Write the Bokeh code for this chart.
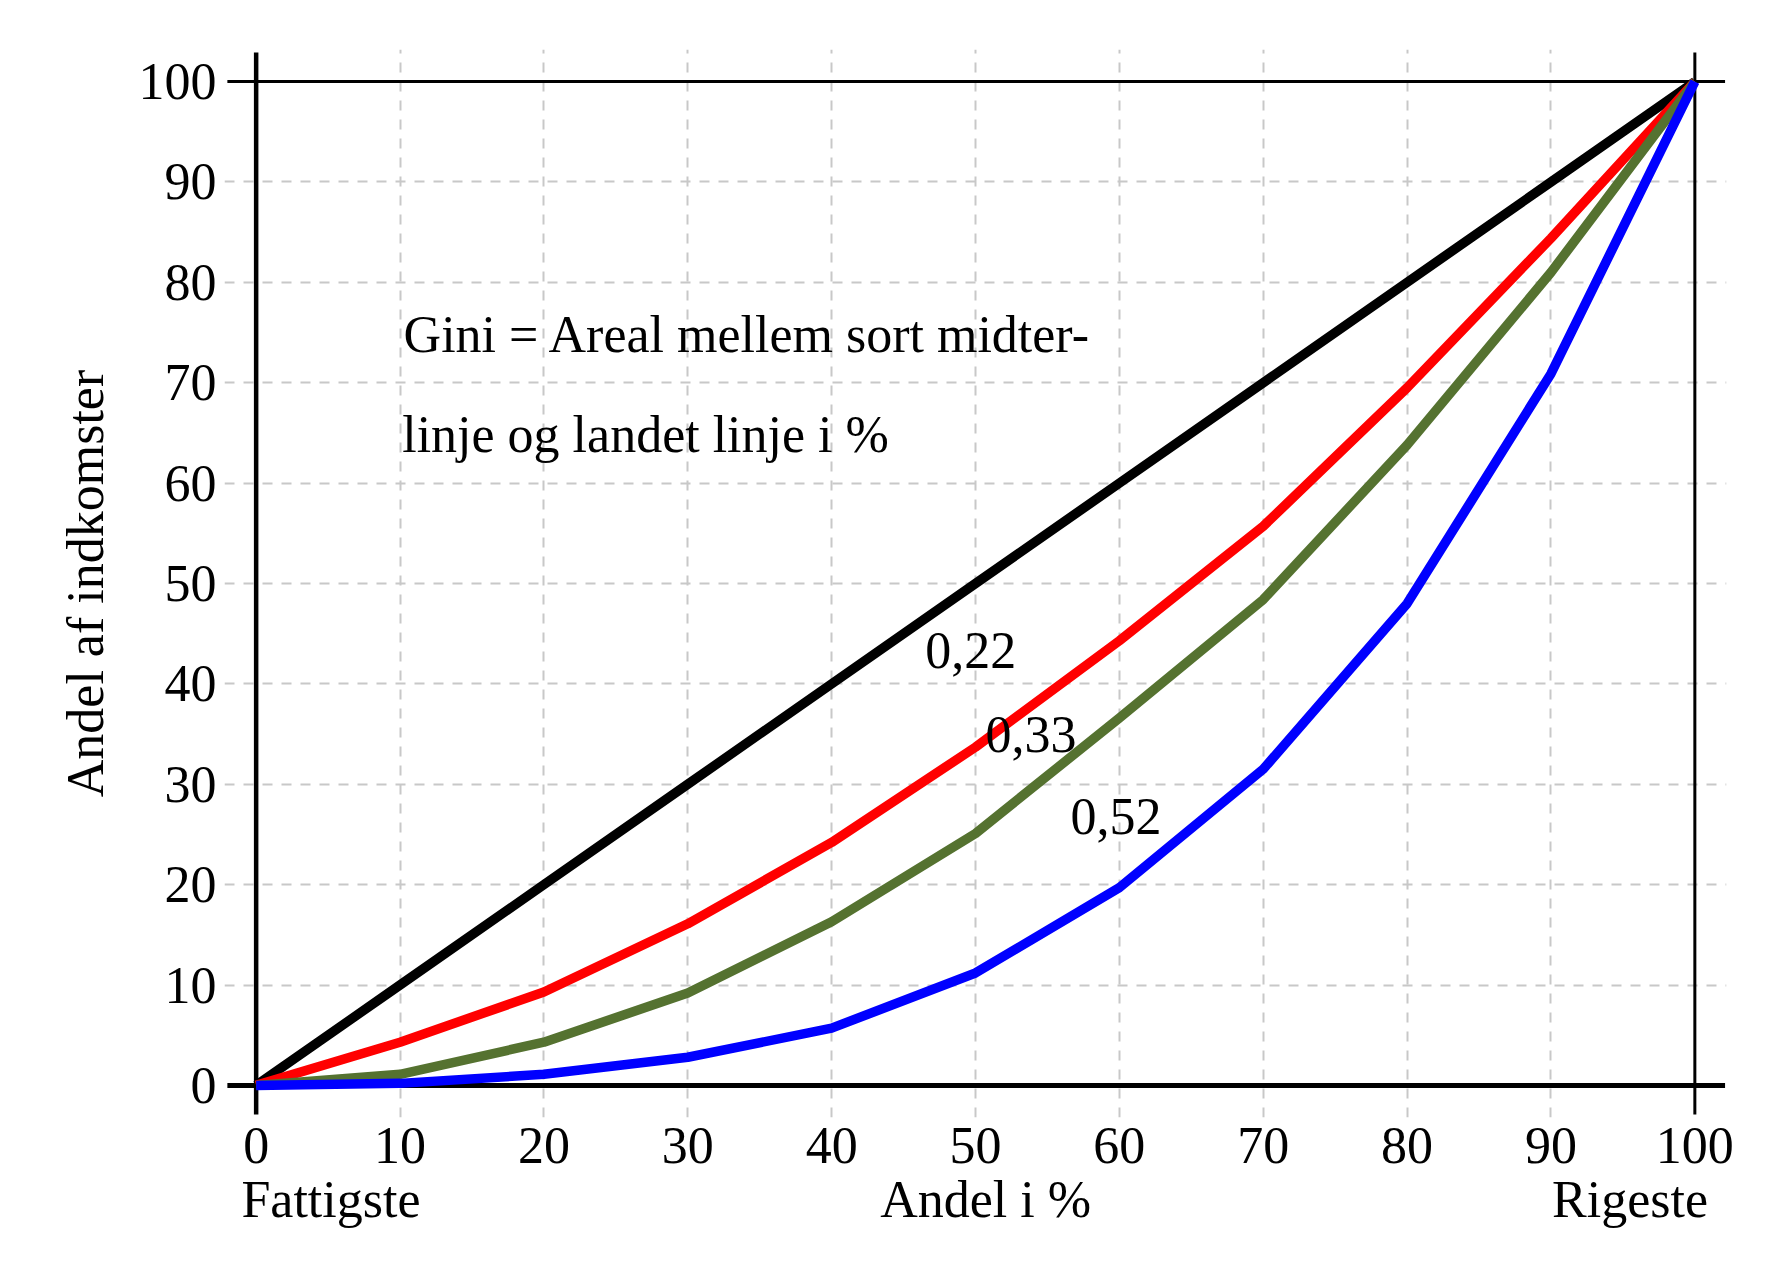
from bokeh.plotting import figure
from bokeh.models import FixedTicker, Range1d, LinearAxis
from bokeh.core.properties import value
from bokeh.embed import file_html
from bokeh.resources import INLINE

# ---- data ----
share_pop = [0, 10, 20, 30, 40, 50, 60, 70, 80, 90, 100]
equality = [0, 10, 20, 30, 40, 50, 60, 70, 80, 90, 100]
gini_022 = [0, 4.3, 9.3, 16.1, 24.2, 33.7, 44.3, 55.7, 69.5, 84.4, 100]
gini_033 = [0, 1.1, 4.3, 9.2, 16.3, 25.1, 36.6, 48.4, 63.8, 81.0, 100]
gini_052 = [0, 0.2, 1.1, 2.8, 5.7, 11.2, 19.7, 31.5, 48.0, 70.9, 100]
ticks = [0, 10, 20, 30, 40, 50, 60, 70, 80, 90, 100]
gini_labels = ["0,22", "0,33", "0,52"]
gini_label_x = [46.5, 50.7, 56.6]
gini_label_y = [43.3, 35.0, 26.8]
note_lines = ["Gini = Areal mellem sort midter-", "linje og landet linje i %"]
note_x = [10.25, 10.15]
note_y = [74.8, 64.8]
end_label_pos = [5.2, 50.7, 95.5]
end_label_text = ["Fattigste", "Andel i %", "Rigeste"]

FONT = "Liberation Serif"

p = figure(width=1756, height=1260, output_backend="svg", toolbar_location=None,
           x_range=Range1d(-2.2, 102.2), y_range=Range1d(-3.2, 103.2),
           min_border_left=224, min_border_right=30, min_border_top=49,
           min_border_bottom=143)
p.outline_line_color = None
p.background_fill_color = "white"
p.border_fill_color = "white"

for ax in (p.xaxis[0], p.yaxis[0]):
    ax.ticker = FixedTicker(ticks=ticks)
    ax.axis_line_color = None
    ax.major_tick_line_color = None
    ax.minor_tick_line_color = None
    ax.major_tick_out = 0
    ax.major_tick_in = 0
    ax.major_label_text_font = FONT
    ax.major_label_text_font_size = "52px"
    ax.major_label_text_color = "black"
p.xaxis.major_label_standoff = 10
p.yaxis.major_label_standoff = 8
p.yaxis.axis_label = "Andel af indkomster"
p.yaxis.axis_label_text_font = FONT
p.yaxis.axis_label_text_font_size = "52px"
p.yaxis.axis_label_text_font_style = "normal"
p.yaxis.axis_label_text_color = "black"
p.yaxis.axis_label_standoff = 22

# second bottom axis carrying the end labels
end_axis = LinearAxis(ticker=FixedTicker(ticks=end_label_pos),
                      major_label_overrides={v: t for v, t in zip(end_label_pos, end_label_text)})
end_axis.axis_line_color = None
end_axis.major_tick_line_color = None
end_axis.minor_tick_line_color = None
end_axis.major_tick_out = 0
end_axis.major_tick_in = 0
end_axis.major_label_standoff = 5
end_axis.major_label_text_font = FONT
end_axis.major_label_text_font_size = "52px"
end_axis.major_label_text_color = "black"
p.add_layout(end_axis, "below")

p.xgrid.ticker = FixedTicker(ticks=ticks[1:-1])
p.ygrid.ticker = FixedTicker(ticks=ticks[1:-1])
for g in (p.xgrid[0], p.ygrid[0]):
    g.grid_line_color = "#c8c8c8"
    g.grid_line_width = 2
    g.grid_line_dash = "10 9"

# frame lines (box with slight overhang)
lo_x, hi_x = -2.0, 102.1
lo_y, hi_y = -2.9, 102.9
p.segment(x0=[lo_x], y0=[100], x1=[hi_x], y1=[100], line_color="black", line_width=3)
p.segment(x0=[100], y0=[lo_y], x1=[100], y1=[hi_y], line_color="black", line_width=3)
p.segment(x0=[lo_x], y0=[0], x1=[hi_x], y1=[0], line_color="black", line_width=5)
p.segment(x0=[0], y0=[lo_y], x1=[0], y1=[hi_y], line_color="black", line_width=4.5)

# Lorenz curves
LW = 9.5
p.line(share_pop, equality, line_color="black", line_width=LW, line_join="round")
p.line(share_pop, gini_022, line_color="#ff0000", line_width=LW, line_join="round")
p.line(share_pop, gini_033, line_color="#557230", line_width=LW, line_join="round")
p.line(share_pop, gini_052, line_color="#0000ff", line_width=LW, line_join="round")

p.text(x=gini_label_x, y=gini_label_y, text=gini_labels, text_font=value(FONT),
       text_font_size="52px", text_color="black", text_baseline="alphabetic",
       text_align="left")
p.text(x=note_x, y=note_y, text=note_lines, text_font=value(FONT),
       text_font_size="52px", text_color="black", text_baseline="alphabetic",
       text_align="left")

open("out.html", "w").write(file_html(p, INLINE))
